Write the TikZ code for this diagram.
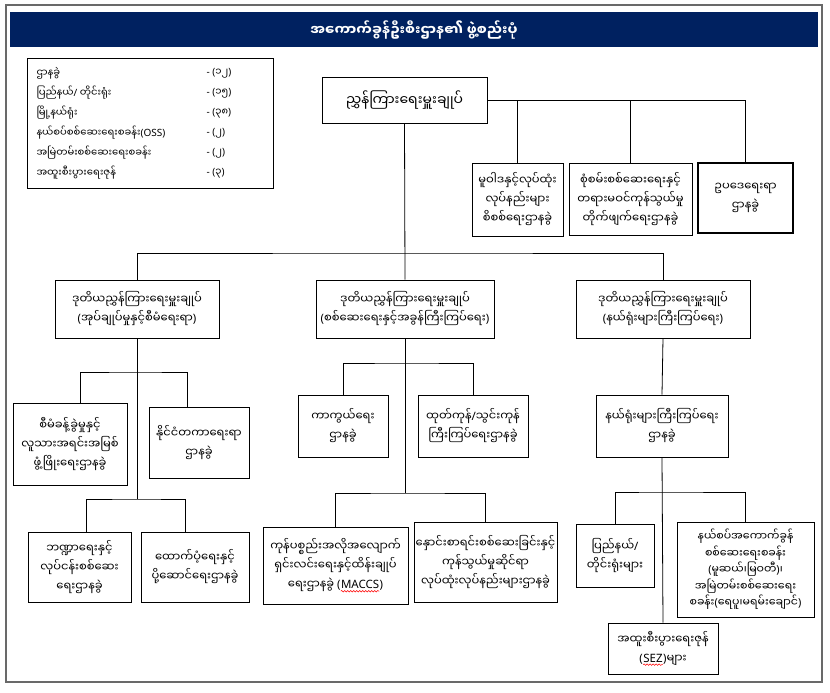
\documentclass[tikz,border=0pt]{standalone}
\usepackage{fontspec}
\setmainfont{Noto Sans}
\newfontfamily\mmfont[Script=Myanmar]{Noto Sans Myanmar UI}
% Myanmar letters switch to the Myanmar family by themselves
\XeTeXinterchartokenstate=1
\newXeTeXintercharclass\mmclass
\count255="1000
\loop\ifnum\count255<"10A0
  \XeTeXcharclass\count255=\mmclass
  \advance\count255 by 1
\repeat
\XeTeXinterchartoks 0 \mmclass = {\mmfont}
\XeTeXinterchartoks 4095 \mmclass = {\mmfont}
\XeTeXinterchartoks \mmclass 0 = {\rmfamily}
\XeTeXinterchartoks \mmclass 4095 = {\rmfamily}
\usetikzlibrary{decorations.pathmorphing}
\definecolor{titleblue}{RGB}{0,33,96}
\definecolor{framegray}{RGB}{105,105,105}
\newcommand{\boxfont}{\fontsize{11.5}{19}\selectfont}
\newcommand{\legendfont}{\fontsize{10}{12}\selectfont}
\newcommand{\unitBox}[7][]{
    \node[unit, #1, minimum width=#5pt-#3pt, minimum height=#6pt-#4pt]
        (#2) at ({(#3+#5)/2},{(#4+#6)/2}) {#7};
}
\newcommand{\legendRow}[4]{
    \node[anchor=west, font=\legendfont] (#1) at (33,#2) {#3};
    \node[anchor=west, font=\legendfont] (#1n) at (203,#2) {#4};
}
% word with a red spell-check wave under it
\newcommand{\spellMark}[2]{\tikz[baseline=(#1.base)]{
    \node[draw=none, inner sep=0pt, minimum width=0pt, minimum height=0pt] (#1) {#2};
    \draw[spell] ([yshift=-2pt]#1.south west) -- ([yshift=-2pt]#1.south east);}}
\tikzset{
    unit/.style={draw, line width=0.8pt, align=center, inner sep=1pt, font=\boxfont},
    heavy/.style={line width=1.8pt},
    link/.style={draw, line width=0.8pt},
    spell/.style={draw=red, line width=0.5pt, decorate,
        decoration={snake, amplitude=0.8pt, segment length=3pt}},
}

\begin{document}
\begin{tikzpicture}[x=1pt, y=-1pt]
\useasboundingbox (0,0) rectangle (830,693);

% Frame and title
\draw[framegray, line width=2pt] (6,5) rectangle (822,682);
\fill[titleblue] (10,12) rectangle (818,47);
\node[text=white, font=\fontsize{14}{16}\selectfont\bfseries] (title) at (414,30)
    {အကောက်ခွန်ဦးစီးဌာန၏ ဖွဲ့စည်းပုံ};

% Legend
\unitBox{legend}{27}{58}{273}{188}{}
\legendRow{lgA}{73}{ဌာနခွဲ}{- (၁၂)}
\legendRow{lgB}{93}{ပြည်နယ်/ တိုင်းရုံး}{- (၁၅)}
\legendRow{lgC}{113}{မြို့နယ်ရုံး}{- (၃၈)}
\legendRow{lgD}{133}{နယ်စပ်စစ်ဆေးရေးစခန်း(OSS)}{- (၂)}
\legendRow{lgE}{153}{အမြဲတမ်းစစ်ဆေးရေးစခန်း}{- (၂)}
\legendRow{lgF}{173}{အထူးစီးပွားရေးဇုန်}{- (၃)}

% Director General and attached divisions
\unitBox[font=\fontsize{14}{16}\selectfont]{dg}{322}{77}{487}{123}{ညွှန်ကြားရေးမှူးချုပ်}
\unitBox{b1}{472}{163}{563}{236}{မူဝါဒနှင့်လုပ်ထုံး\\လုပ်နည်းများ\\စိစစ်ရေးဌာနခွဲ}
\unitBox{b2}{569}{163}{692}{235}{စုံစမ်းစစ်ဆေးရေးနှင့်\\တရားမဝင်ကုန်သွယ်မှု\\တိုက်ဖျက်ရေးဌာနခွဲ}
\unitBox[heavy]{b3}{698}{163}{793}{233}{ဥပဒေရေးရာ\\ဌာနခွဲ}

% Deputy Directors General
\unitBox{d1}{55}{280}{219}{338}{ဒုတိယညွှန်ကြားရေးမှူးချုပ်\\(အုပ်ချုပ်မှုနှင့်စီမံရေးရာ)}
\unitBox{d2}{316}{280}{494}{338}{ဒုတိယညွှန်ကြားရေးမှူးချုပ်\\(စစ်ဆေးရေးနှင့်အခွန်ကြီးကြပ်ရေး)}
\unitBox{d3}{576}{280}{750}{338}{ဒုတိယညွှန်ကြားရေးမှူးချုပ်\\(နယ်ရုံးများကြီးကြပ်ရေး)}

% Administration branch
\unitBox{l1}{13}{403}{127}{485}{စီမံခန့်ခွဲမှုနှင့်\\လူသားအရင်းအမြစ်\\ဖွံ့ဖြိုးရေးဌာနခွဲ}
\unitBox{l2}{149}{407}{249}{478}{နိုင်ငံတကာရေးရာ\\ဌာနခွဲ}
\unitBox{l3}{28}{532}{131}{602}{ဘဏ္ဍာရေးနှင့်\\လုပ်ငန်းစစ်ဆေး\\ရေးဌာနခွဲ}
\unitBox{l4}{141}{532}{249}{602}{ထောက်ပံ့ရေးနှင့်\\ပို့ဆောင်ရေးဌာနခွဲ}

% Inspection branch
\unitBox{m1}{298}{395}{388}{457}{ကာကွယ်ရေး\\ဌာနခွဲ}
\unitBox{m2}{418}{395}{528}{457}{ထုတ်ကုန်/သွင်းကုန်\\ကြီးကြပ်ရေးဌာနခွဲ}
\unitBox{m3}{263}{527}{408}{604}{ကုန်ပစ္စည်းအလိုအလျောက်\\ရှင်းလင်းရေးနှင့်ထိန်းချုပ်\\ရေးဌာနခွဲ (\spellMark{maccs}{MACCS})}
\unitBox{m4}{414}{522}{557}{602}{နှောင်းစာရင်းစစ်ဆေးခြင်းနှင့်\\ကုန်သွယ်မှုဆိုင်ရာ\\လုပ်ထုံးလုပ်နည်းများဌာနခွဲ}

% Regional offices branch
\unitBox{r1}{596}{395}{728}{457}{နယ်ရုံးများကြီးကြပ်ရေး\\ဌာနခွဲ}
\unitBox{r2}{576}{524}{654}{587}{ပြည်နယ်/\\တိုင်းရုံးများ}
\unitBox[font=\fontsize{11}{16.5}\selectfont]{r3}{677}{522}{814}{617}{နယ်စပ်အကောက်ခွန်\\စစ်ဆေးရေးစခန်း\\(မူဆယ်၊မြဝတီ)၊\\အမြဲတမ်းစစ်ဆေးရေး\\စခန်း(ရေပူ၊မရမ်းချောင်)}
\unitBox{r4}{608}{623}{718}{674}{အထူးစီးပွားရေးဇုန်\\(\spellMark{sez}{SEZ})များ}

% Connectors
\coordinate (topbar) at (405,253);
\coordinate (ljoin1) at (137,372);
\coordinate (ljoin2) at (137,499);
\coordinate (mjoin1) at (405,363);
\coordinate (mjoin2) at (405,493);
\coordinate (rjoin) at (662,492);

\draw[link] (b1.north) |- (dg.east);
\draw[link] (b2.north) |- (dg.east);
\draw[link] (dg.east) -| (b3.north);
\draw[link] (dg.south) -- (d2.north);
\draw[link] (d1.north) |- (topbar) -| (d3.north);

\draw[link] (d1.south) -- (ljoin2);
\draw[link] ([xshift=10pt]l1.north) |- (ljoin1) -| ([xshift=-12pt]l2.north);
\draw[link] ([xshift=7pt]l3.north) |- (ljoin2) -| ([xshift=-10pt]l4.north);

\draw[link] (d2.south) -- (mjoin2);
\draw[link] (m1.north) |- (mjoin1) -| (m2.north);
\draw[link] (m3.north) |- (mjoin2) -| (m4.north);

\draw[link] (d3.south) -- (r1.north);
\draw[link] (r1.south) -- (r4.north);
\draw[link] (r2.north) |- (rjoin) -| (r3.north);

\end{tikzpicture}
\end{document}
